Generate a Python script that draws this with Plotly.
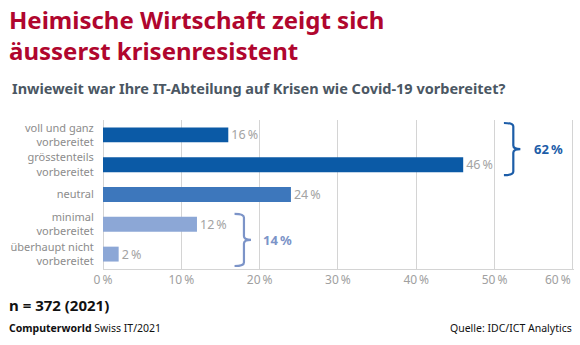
import plotly.graph_objects as go

# Survey answers (top to bottom) and their shares in percent
categories = [
    "voll und ganz<br>vorbereitet",
    "grösstenteils<br>vorbereitet",
    "neutral",
    "minimal<br>vorbereitet",
    "überhaupt nicht<br>vorbereitet",
]
values = [16, 46, 24, 12, 2]
bar_colors = ["#0B5AA6", "#0B5AA6", "#3D77BC", "#8CA7D6", "#8CA7D6"]

x_ticks = [0, 10, 20, 30, 40, 50, 60]
x_tick_labels = [f"{t}\u2009%" for t in x_ticks]

# Grouped totals shown next to curly braces
group_prepared = 62   # voll und ganz + grösstenteils
group_unprepared = 14  # minimal + überhaupt nicht

W, H = 580, 345
L, R, T, B = 103, 6, 120, 76
PW, PH = W - L - R, H - T - B

def px(x):
    return (x - L) / PW

def py(y):
    return (H - B - y) / PH

rows = list(range(len(categories)))
font = "Noto Sans"
tick_font = dict(family=font, size=12, color="#A0A0A0")

fig = go.Figure()
fig.add_trace(go.Bar(
    y=rows,
    x=values,
    orientation="h",
    width=0.5,
    marker=dict(color=bar_colors, line=dict(width=0)),
    text=[f"{v}\u2009%" for v in values],
    textposition="outside",
    constraintext="none",
    textfont=dict(family=font, size=12.5, color="#A3A3A3"),
    cliponaxis=False,
    hoverinfo="skip",
))

def brace(x, y0, y1, w, tip):
    """Right-facing curly brace path in data coordinates."""
    ym = (y0 + y1) / 2
    r = 0.12
    return (
        f"M {x - w} {y0} Q {x} {y0} {x} {y0 + r} "
        f"L {x} {ym - r} Q {x} {ym} {x + tip} {ym} "
        f"Q {x} {ym} {x} {ym + r} "
        f"L {x} {y1 - r} Q {x} {y1} {x - w} {y1}"
    )

fig.add_shape(type="path", xref="x", yref="y",
              path=brace(52.4, -0.4, 1.35, 1.2, 0.9),
              line=dict(color="#1C5DA8", width=2.2))
fig.add_shape(type="path", xref="x", yref="y",
              path=brace(18.0, 2.65, 4.4, 1.2, 0.9),
              line=dict(color="#7C94C8", width=2.2))

# the last axis label sits flush right against the final gridline
axis_labels = [t for t in x_tick_labels[:-1]] + [""]

annotations = [
    dict(x=x_ticks[-1], y=py(279), xref="x", yref="paper", text=x_tick_labels[-1],
         showarrow=False, xanchor="right", yanchor="middle", font=tick_font),
    dict(x=54.8, y=0.48, xref="x", yref="y", text=f"<b>{group_prepared}\u2009%</b>",
         showarrow=False, xanchor="left", yanchor="middle",
         font=dict(family=font, size=13, color="#1C5DA8")),
    dict(x=20.2, y=3.52, xref="x", yref="y", text=f"<b>{group_unprepared}\u2009%</b>",
         showarrow=False, xanchor="left", yanchor="middle",
         font=dict(family=font, size=13, color="#7C94C8")),
    dict(x=px(7), y=py(35), xref="paper", yref="paper",
         text="<b>Heimische Wirtschaft zeigt sich<br>äusserst krisenresistent</b>",
         showarrow=False, xanchor="left", yanchor="middle", align="left",
         font=dict(family=font, size=24, color="#B0062E")),
    dict(x=px(10), y=py(88), xref="paper", yref="paper",
         text="<b>Inwieweit war Ihre IT-Abteilung auf Krisen wie Covid-19 vorbereitet?</b>",
         showarrow=False, xanchor="left", yanchor="middle",
         font=dict(family=font, size=14.5, color="#4B5763")),
    dict(x=px(7), y=py(305), xref="paper", yref="paper",
         text="<b>n = 372 (2021)</b>",
         showarrow=False, xanchor="left", yanchor="middle",
         font=dict(family=font, size=15, color="#111111")),
    dict(x=px(7), y=py(328), xref="paper", yref="paper",
         text="<b>Computerworld</b> Swiss IT/2021",
         showarrow=False, xanchor="left", yanchor="middle",
         font=dict(family=font, size=10.5, color="#111111")),
    dict(x=px(574), y=py(328), xref="paper", yref="paper",
         text="Quelle: IDC/ICT Analytics",
         showarrow=False, xanchor="right", yanchor="middle",
         font=dict(family=font, size=10.5, color="#111111")),
]

fig.update_layout(
    width=W, height=H,
    margin=dict(l=L, r=R, t=T, b=B, pad=0, autoexpand=False),
    paper_bgcolor="white",
    plot_bgcolor="white",
    showlegend=False,
    annotations=annotations,
    xaxis=dict(
        range=[0, 60.15],
        tickmode="array",
        tickvals=x_ticks,
        ticktext=axis_labels,
        ticklabeloverflow="allow",
        tickfont=tick_font,
        showgrid=True, gridcolor="#D4D4D4", gridwidth=1,
        zeroline=True, zerolinecolor="#D4D4D4", zerolinewidth=1,
        showline=True, linecolor="#D4D4D4", linewidth=1,
        ticks="", automargin=False, fixedrange=True,
    ),
    yaxis=dict(
        tickvals=rows,
        ticktext=categories,
        range=[4.5, -0.5],
        tickfont=dict(family=font, size=11, color="#8C8C8C"),
        showgrid=False, zeroline=False, showline=False,
        ticks="outside", ticklen=6, tickcolor="rgba(0,0,0,0)",
        automargin=False, fixedrange=True,
    ),
)

fig.write_html("out.html")
